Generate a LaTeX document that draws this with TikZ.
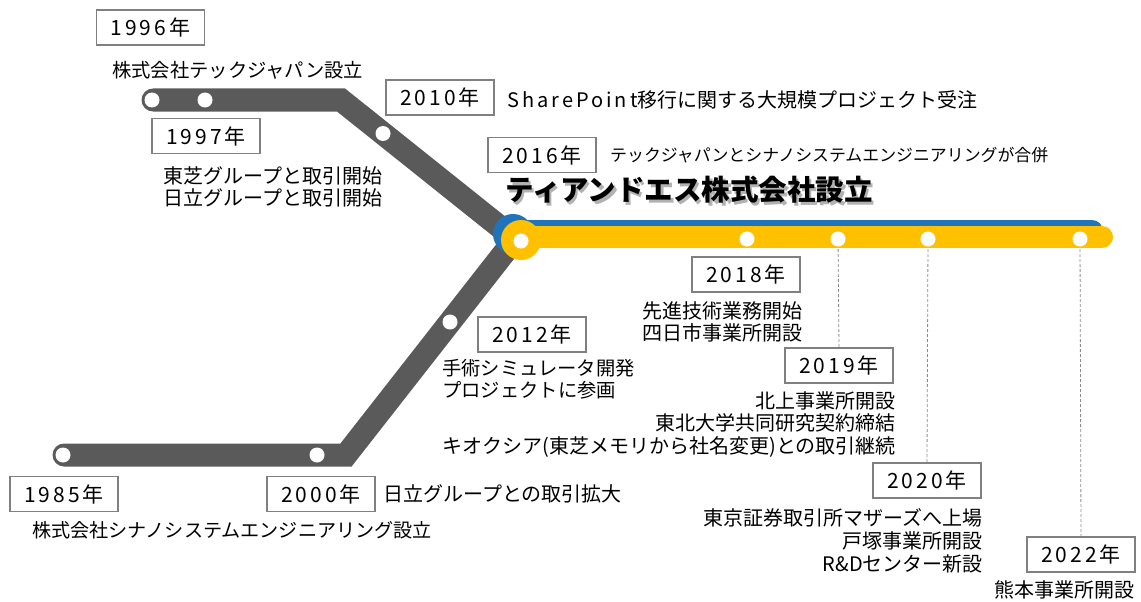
\documentclass[tikz,border=0pt]{standalone}
\usepackage{fontspec}
\setmainfont{Noto Sans CJK JP}
\newfontfamily\yrfont{Noto Sans CJK JP}[LetterSpace=14]
\newfontfamily\spfont{Noto Sans CJK JP}[LetterSpace=15]
\definecolor{track}{HTML}{5A5A5A}
\definecolor{tdsblue}{HTML}{1F74BA}
\definecolor{tdsyellow}{HTML}{FFC000}
\definecolor{boxline}{HTML}{808080}
\begin{document}
\begin{tikzpicture}[x=1pt,y=-1pt,
  yearbox/.style={draw=boxline,line width=1.1pt,minimum width=108pt,minimum height=35pt,inner sep=0pt,font=\yrfont\fontsize{21}{24}\selectfont},
  evt/.style={inner sep=0pt,font=\fontsize{20}{22.8}\selectfont},
  dot/.style={circle,fill=white,minimum size=15pt,inner sep=0pt},
  conn/.style={draw=track!70,line width=0.8pt,dash pattern=on 3pt off 2pt},
  graytrack/.style={draw=track,line width=23pt,line join=miter},
]
\path[use as bounding box] (0,0) rectangle (1141,602);

% year boxes
\node[yearbox] (y1996) at (150.5,27.5) {1996年};
\node[yearbox] (y1997) at (206,136) {1997年};
\node[yearbox] (y2010) at (440,97.5) {2010年};
\node[yearbox] (y2016) at (542,155) {2016年};
\node[yearbox] (y2018) at (746,274.5) {2018年};
\node[yearbox] (y2012) at (532,334.5) {2012年};
\node[yearbox] (y2019) at (839,365.5) {2019年};
\node[yearbox] (y2020) at (927,480.5) {2020年};
\node[yearbox] (y2022) at (1081,554.5) {2022年};
\node[yearbox] (y1985) at (64,494) {1985年};
\node[yearbox] (y2000) at (321,494) {2000年};

% event texts
\node[evt,anchor=west,font=\fontsize{19.3}{22}\selectfont] (t1996) at (112,70) {株式会社テックジャパン設立};
\node[evt,anchor=west,align=left] (t1997) at (163,187) {東芝グループと取引開始\\日立グループと取引開始};
\node[evt,anchor=west] (t2010) at (507,100) {{\spfont SharePoint}移行に関する大規模プロジェクト受注};
\node[evt,anchor=west,font=\fontsize{16.9}{19}\selectfont] (t2016) at (610,155) {テックジャパンとシナノシステムエンジニアリングが合併};
\node[evt,anchor=west,font=\fontsize{28.5}{30}\bfseries\selectfont,text=black,opacity=0.3] (shadow) at (507.5,192.5) {ティアンドエス株式会社設立};
\node[evt,anchor=west,font=\fontsize{28.5}{30}\bfseries\selectfont] (title) at (505,190) {ティアンドエス株式会社設立};
\node[evt,anchor=east,align=right] (t2018) at (803,322) {先進技術業務開始\\四日市事業所開設};
\node[evt,anchor=west,align=left,font=\fontsize{19.3}{22.5}\selectfont] (t2012) at (442,379) {手術シミュレータ開発\\プロジェクトに参画};
\node[evt,anchor=east,align=right] (t2019) at (896,424.5) {北上事業所開設\\東北大学共同研究契約締結\\キオクシア(東芝メモリから社名変更)との取引継続};
\node[evt,anchor=east,align=right] (t2020) at (983,541) {東京証券取引所マザーズへ上場\\戸塚事業所開設\\R\&Dセンター新設};
\node[evt,anchor=east] (t2022) at (1135,590) {熊本事業所開設};
\node[evt,anchor=west,font=\fontsize{19.1}{22}\selectfont] (t1985) at (32,530) {株式会社シナノシステムエンジニアリング設立};
\node[evt,anchor=west] (t2000) at (383,494) {日立グループとの取引拡大};

% station coordinates
\coordinate (s1996) at (152,100);
\coordinate (s1997) at (205,100);
\coordinate (s2010) at (383,133.5);
\coordinate (j) at (521,240);
\coordinate (s1985) at (63,455);
\coordinate (s2000) at (317,455);
\coordinate (s2012) at (450,322);
\coordinate (s2018) at (747,239);
\coordinate (s2019) at (838,239);
\coordinate (s2020) at (928,239);
\coordinate (s2022) at (1080,239);

% dashed connectors
\draw[conn] (s2019) -- (y2019.north);
\draw[conn] (s2020) -- (y2020.north);
\draw[conn] (s2022) -- (y2022.north);

% gray tracks
\draw[graytrack,line cap=round] (153,100) -- (341,100) -- (515,239);
\draw[graytrack,line cap=round] (64,455) -- (346,455) -- (515,239);

% blue and yellow lines
\fill[tdsblue] (513,234) circle (20pt);
\draw[tdsblue,line width=22pt,line cap=round] (513,231) -- (1092,231);
\fill[tdsyellow] (j) circle (20pt);
\draw[tdsyellow,line width=22pt,line cap=round] (521,237) -- (1102,237);

% station dots
\foreach \s in {s1996,s1997,s2010,s1985,s2000,s2012,s2018,s2019,s2020,s2022}{
  \node[dot] at (\s) {};
}
\node[dot] (jdot) at (521,241) {};
\end{tikzpicture}
\end{document}
